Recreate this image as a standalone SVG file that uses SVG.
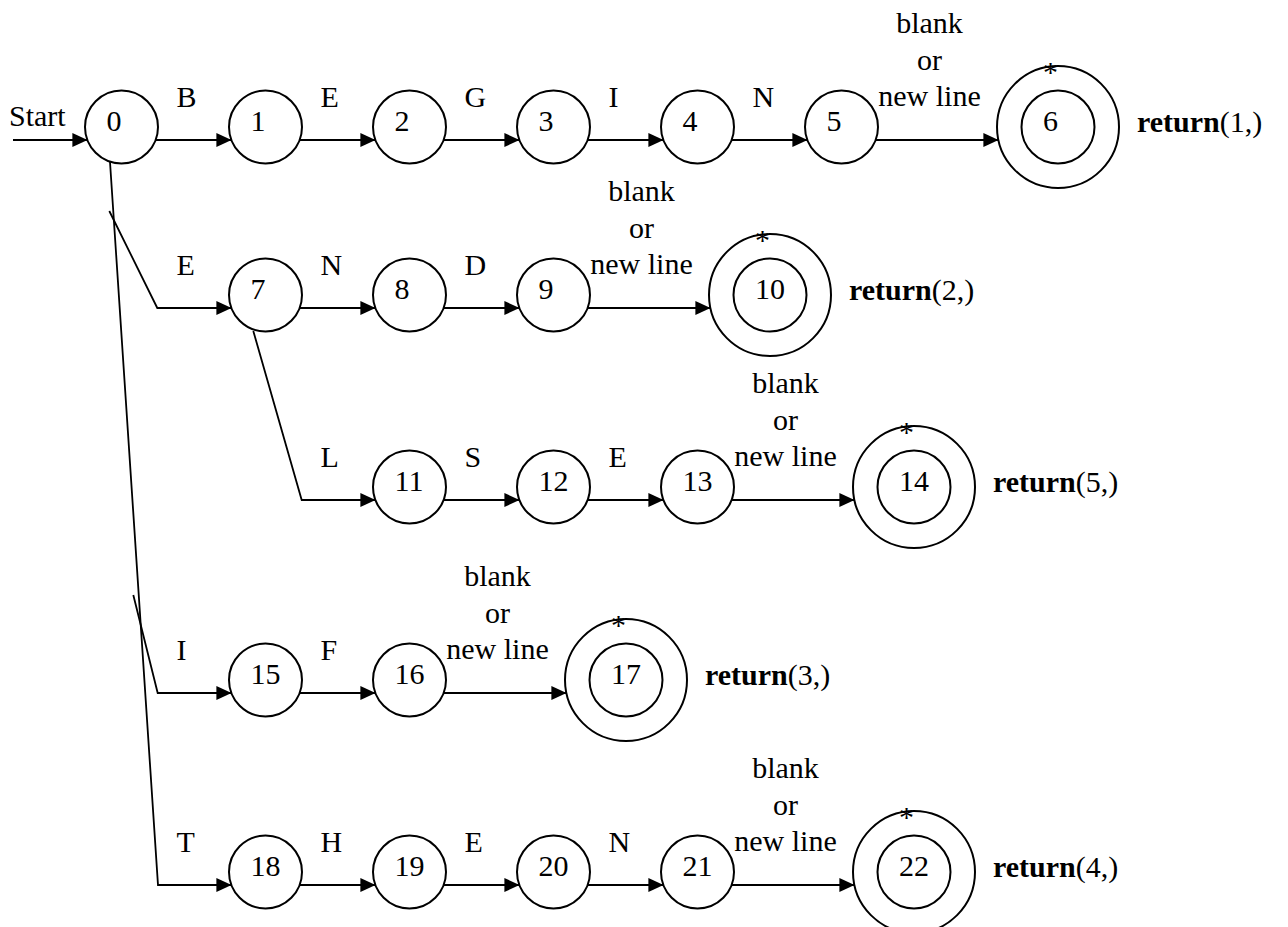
<svg xmlns="http://www.w3.org/2000/svg" width="1288" height="927" viewBox="0 0 1288 927">
<style>
.t text{font-size:30px;fill:#000}
.c{fill:#fff;stroke:#000;stroke-width:2}
.e{fill:none;stroke:#000;stroke-width:1.8}
.m{text-anchor:middle}
.b{font-weight:bold}
</style>
<defs>
<marker id="ah" markerWidth="15" markerHeight="14" refX="15" refY="7" orient="auto" markerUnits="userSpaceOnUse"><path d="M0,0 L15,7 L0,14 z" fill="#000"/></marker>
</defs>
<rect width="1288" height="927" fill="#fff"/>
<g id="connectors">
<path class="e" d="M13,140 L87.4,140" marker-end="url(#ah)"/>
<path class="e" d="M155.6,140 L231.4,140" marker-end="url(#ah)"/>
<path class="e" d="M299.6,140 L375.4,140" marker-end="url(#ah)"/>
<path class="e" d="M443.6,140 L519.4,140" marker-end="url(#ah)"/>
<path class="e" d="M587.6,140 L663.4,140" marker-end="url(#ah)"/>
<path class="e" d="M731.6,140 L807.4,140" marker-end="url(#ah)"/>
<path class="e" d="M875.6,140 L998.4,140" marker-end="url(#ah)"/>
<path class="e" d="M109.3,211 L157.3,308 L231.4,308" marker-end="url(#ah)"/>
<path class="e" d="M299.6,308 L375.4,308" marker-end="url(#ah)"/>
<path class="e" d="M443.6,308 L519.4,308" marker-end="url(#ah)"/>
<path class="e" d="M587.6,308 L710.4,308" marker-end="url(#ah)"/>
<path class="e" d="M253.3,331 L301.7,500 L375.4,500" marker-end="url(#ah)"/>
<path class="e" d="M443.6,500 L519.4,500" marker-end="url(#ah)"/>
<path class="e" d="M587.6,500 L663.4,500" marker-end="url(#ah)"/>
<path class="e" d="M731.6,500 L854.4,500" marker-end="url(#ah)"/>
<path class="e" d="M133.3,595 L157.7,693 L231.4,693" marker-end="url(#ah)"/>
<path class="e" d="M299.6,693 L375.4,693" marker-end="url(#ah)"/>
<path class="e" d="M443.6,693 L566.4,693" marker-end="url(#ah)"/>
<path class="e" d="M110,162 L158,885 L231.4,885" marker-end="url(#ah)"/>
<path class="e" d="M299.6,885 L375.4,885" marker-end="url(#ah)"/>
<path class="e" d="M443.6,885 L519.4,885" marker-end="url(#ah)"/>
<path class="e" d="M587.6,885 L663.4,885" marker-end="url(#ah)"/>
<path class="e" d="M731.6,885 L854.4,885" marker-end="url(#ah)"/>
</g>
<g class="t" font-family="'Liberation Serif', 'DejaVu Serif', 'Times New Roman', serif">
<g id="labels">
<text x="9" y="126">Start</text>
<text x="176.5" y="106.5">B</text>
<text x="320.5" y="106.5">E</text>
<text x="464.5" y="106.5">G</text>
<text x="608.5" y="106.5">I</text>
<text x="752.5" y="106.5">N</text>
<text class="m" x="929.5" y="32.5">blank</text>
<text class="m" x="929.5" y="69.5">or</text>
<text class="m" x="929.5" y="106">new line</text>
<text x="176.5" y="274.5">E</text>
<text x="320.5" y="274.5">N</text>
<text x="464.5" y="274.5">D</text>
<text class="m" x="641.5" y="200.5">blank</text>
<text class="m" x="641.5" y="237.5">or</text>
<text class="m" x="641.5" y="274">new line</text>
<text x="320.5" y="466.5">L</text>
<text x="464.5" y="466.5">S</text>
<text x="608.5" y="466.5">E</text>
<text class="m" x="785.5" y="392.5">blank</text>
<text class="m" x="785.5" y="429.5">or</text>
<text class="m" x="785.5" y="466">new line</text>
<text x="176.5" y="659.5">I</text>
<text x="320.5" y="659.5">F</text>
<text class="m" x="497.5" y="585.5">blank</text>
<text class="m" x="497.5" y="622.5">or</text>
<text class="m" x="497.5" y="659">new line</text>
<text x="176.5" y="851.5">T</text>
<text x="320.5" y="851.5">H</text>
<text x="464.5" y="851.5">E</text>
<text x="608.5" y="851.5">N</text>
<text class="m" x="785.5" y="777.5">blank</text>
<text class="m" x="785.5" y="814.5">or</text>
<text class="m" x="785.5" y="851">new line</text>
</g>
<g id="n0"><circle class="c" cx="121.5" cy="127" r="36.5"/><text x="106.5" y="130.5">0</text></g>
<g id="n1"><circle class="c" cx="265.5" cy="127" r="36.5"/><text x="250.5" y="130.5">1</text></g>
<g id="n2"><circle class="c" cx="409.5" cy="127" r="36.5"/><text x="394.5" y="130.5">2</text></g>
<g id="n3"><circle class="c" cx="553.5" cy="127" r="36.5"/><text x="538.5" y="130.5">3</text></g>
<g id="n4"><circle class="c" cx="697.5" cy="127" r="36.5"/><text x="682.5" y="130.5">4</text></g>
<g id="n5"><circle class="c" cx="841.5" cy="127" r="36.5"/><text x="826.5" y="130.5">5</text></g>
<g id="n6"><circle class="c" cx="1058" cy="127" r="61"/><circle class="c" cx="1058" cy="127" r="36.5"/><text x="1043" y="130.5">6</text><text x="1043" y="81.5">*</text><text x="1137" y="131.5"><tspan class="b">return</tspan>(1,)</text></g>
<g id="n7"><circle class="c" cx="265.5" cy="295" r="36.5"/><text x="250.5" y="298.5">7</text></g>
<g id="n8"><circle class="c" cx="409.5" cy="295" r="36.5"/><text x="394.5" y="298.5">8</text></g>
<g id="n9"><circle class="c" cx="553.5" cy="295" r="36.5"/><text x="538.5" y="298.5">9</text></g>
<g id="n10"><circle class="c" cx="770" cy="295" r="61"/><circle class="c" cx="770" cy="295" r="36.5"/><text x="755" y="298.5">10</text><text x="755" y="249.5">*</text><text x="849" y="299.5"><tspan class="b">return</tspan>(2,)</text></g>
<g id="n11"><circle class="c" cx="409.5" cy="487" r="36.5"/><text x="394.5" y="490.5">11</text></g>
<g id="n12"><circle class="c" cx="553.5" cy="487" r="36.5"/><text x="538.5" y="490.5">12</text></g>
<g id="n13"><circle class="c" cx="697.5" cy="487" r="36.5"/><text x="682.5" y="490.5">13</text></g>
<g id="n14"><circle class="c" cx="914" cy="487" r="61"/><circle class="c" cx="914" cy="487" r="36.5"/><text x="899" y="490.5">14</text><text x="899" y="441.5">*</text><text x="993" y="491.5"><tspan class="b">return</tspan>(5,)</text></g>
<g id="n15"><circle class="c" cx="265.5" cy="680" r="36.5"/><text x="250.5" y="683.5">15</text></g>
<g id="n16"><circle class="c" cx="409.5" cy="680" r="36.5"/><text x="394.5" y="683.5">16</text></g>
<g id="n17"><circle class="c" cx="626" cy="680" r="61"/><circle class="c" cx="626" cy="680" r="36.5"/><text x="611" y="683.5">17</text><text x="611" y="634.5">*</text><text x="705" y="684.5"><tspan class="b">return</tspan>(3,)</text></g>
<g id="n18"><circle class="c" cx="265.5" cy="872" r="36.5"/><text x="250.5" y="875.5">18</text></g>
<g id="n19"><circle class="c" cx="409.5" cy="872" r="36.5"/><text x="394.5" y="875.5">19</text></g>
<g id="n20"><circle class="c" cx="553.5" cy="872" r="36.5"/><text x="538.5" y="875.5">20</text></g>
<g id="n21"><circle class="c" cx="697.5" cy="872" r="36.5"/><text x="682.5" y="875.5">21</text></g>
<g id="n22"><circle class="c" cx="914" cy="872" r="61"/><circle class="c" cx="914" cy="872" r="36.5"/><text x="899" y="875.5">22</text><text x="899" y="826.5">*</text><text x="993" y="876.5"><tspan class="b">return</tspan>(4,)</text></g>
</g>
</svg>
